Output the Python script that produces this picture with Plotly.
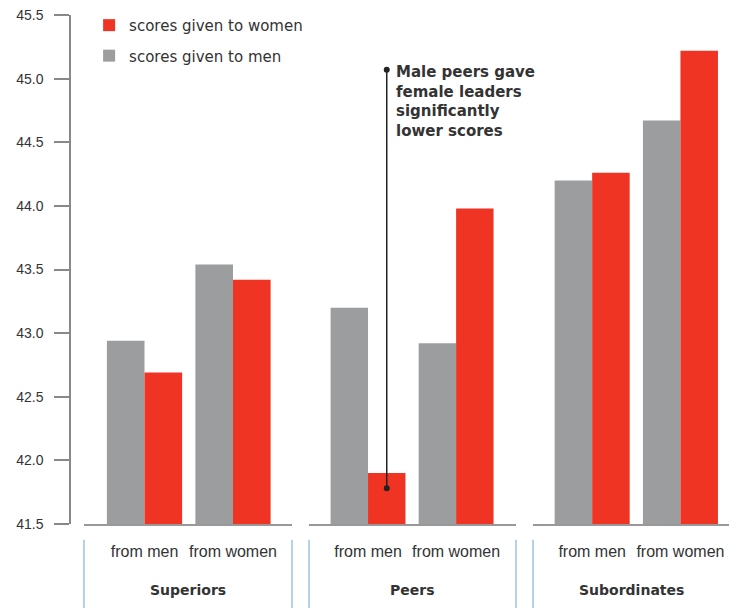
import plotly.graph_objects as go

# ---- data ----
groups = ["Superiors", "Peers", "Subordinates"]
sources = ["from men", "from women"]
scores_to_men = [[42.94, 43.54], [43.20, 42.92], [44.20, 44.67]]
scores_to_women = [[42.69, 43.42], [41.90, 43.98], [44.26, 45.22]]
y_ticks = [41.5, 42.0, 42.5, 43.0, 43.5, 44.0, 44.5, 45.0, 45.5]
note_lines = ["Male peers gave", "female leaders", "significantly", "lower scores"]

RED = "#ef3424"
GRAY = "#9b9d9f"
TXT = "#333333"

fig = go.Figure()
axis_ids = ["x", "x2", "x3"]
for i, g in enumerate(groups):
    fig.add_trace(go.Bar(
        x=sources, y=scores_to_men[i], xaxis=axis_ids[i], yaxis="y" if i == 0 else f"y{i+1}",
        marker=dict(color=GRAY, line=dict(width=0)), name="scores given to men",
        legendgroup="men", showlegend=(i == 0), legendrank=2))
    fig.add_trace(go.Bar(
        x=sources, y=scores_to_women[i], xaxis=axis_ids[i], yaxis="y" if i == 0 else f"y{i+1}",
        marker=dict(color=RED, line=dict(width=0)), name="scores given to women",
        legendgroup="women", showlegend=(i == 0), legendrank=1))

domains = [[0.0212, 0.3369], [0.3627, 0.6768], [0.7026, 1.0]]
ranges = [[-0.684, 1.667], [-0.67, 1.68], [-0.67, 1.55]]
tickfont = dict(family="Liberation Sans Narrow, Liberation Sans, Arial", size=16, color=TXT)

layout = dict(
    width=729, height=608,
    margin=dict(l=70, r=0, t=15, b=84),
    paper_bgcolor="white", plot_bgcolor="white",
    barmode="group", bargap=0.15, bargroupgap=0,
    showlegend=True,
    legend=dict(x=0.029, y=1.012, xanchor="left", yanchor="top",
                font=dict(family="DejaVu Sans, Verdana", size=15, color=TXT),
                tracegroupgap=8, bgcolor="rgba(0,0,0,0)"),
    yaxis=dict(range=[41.5, 45.5], tickvals=y_ticks, ticktext=[f"{v:.1f}" for v in y_ticks],
               anchor="free", position=0, showline=True, linecolor="#888", linewidth=1.5,
               ticks="outside", ticklen=15, tickcolor="#888", tickwidth=1.5,
               ticklabelstandoff=8, showgrid=False, zeroline=False,
               tickfont=dict(family="Liberation Sans, Arial", size=14, color=TXT)),
)
for i in range(3):
    key = "xaxis" if i == 0 else f"xaxis{i+1}"
    layout[key] = dict(domain=domains[i], range=ranges[i], type="category",
                       anchor="y" if i == 0 else f"y{i+1}",
                       showline=True, linecolor="#999", linewidth=2,
                       ticks="", ticklabelstandoff=12, showgrid=False, zeroline=False,
                       tickfont=tickfont)
    if i > 0:
        layout[f"yaxis{i+1}"] = dict(matches="y", visible=False, showgrid=False,
                                      range=[41.5, 45.5], domain=[0, 1],
                                      anchor=axis_ids[i])
fig.update_layout(**layout)

# separators under the axis
shapes = []
sep = [("x", 0), ("x", 1), ("x2", 0), ("x2", 1), ("x3", 0)]
for ax, pos in sep:
    shapes.append(dict(type="line", xref=f"{ax} domain", yref="paper",
                       x0=pos, x1=pos, y0=-0.031, y1=-0.17,
                       line=dict(color="#9cc3e0", width=1.5)))

# callout line on the Peers "from men" red bar
red_offset = 0.2125
y_low, y_high = 41.78, 45.07
shapes.append(dict(type="line", xref="x2", yref="y", x0=red_offset, x1=red_offset,
                   y0=y_low, y1=y_high, line=dict(color="#222", width=1.5)))
for yv in (y_low, y_high):
    shapes.append(dict(type="circle", xref="x2", yref="y", xsizemode="pixel", ysizemode="pixel",
                       xanchor=red_offset, yanchor=yv, x0=-3, x1=3, y0=-3, y1=3,
                       fillcolor="#222", line=dict(width=0)))
fig.update_layout(shapes=shapes)

annotations = []
for ax, g in zip(axis_ids, groups):
    annotations.append(dict(xref=f"{ax} domain", yref="paper", x=0.5, y=-0.13,
                            text=f"<b>{g}</b>", showarrow=False, xanchor="center", yanchor="middle",
                            font=dict(family="DejaVu Sans, Verdana", size=14, color=TXT)))
annotations.append(dict(xref="x2", yref="y", x=red_offset, y=y_high, xshift=7, yshift=9,
                        text="<b>" + "<br>".join(note_lines) + "</b>", showarrow=False,
                        xanchor="left", yanchor="top", align="left",
                        font=dict(family="DejaVu Sans, Verdana", size=15, color=TXT)))
fig.update_layout(annotations=annotations)

fig.write_html("out.html")
